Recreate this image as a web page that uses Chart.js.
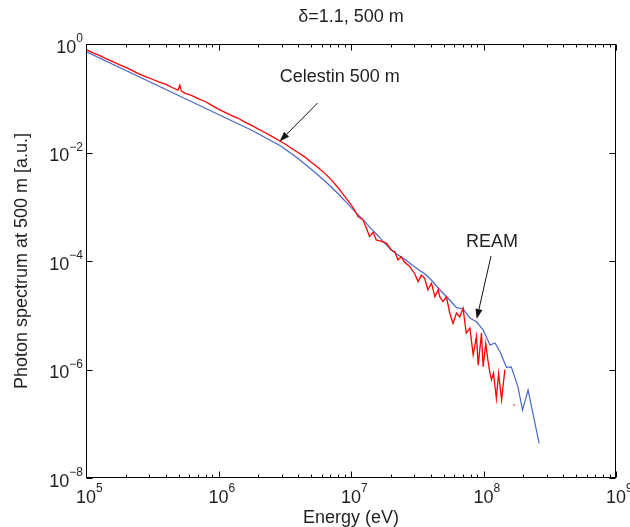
<!DOCTYPE html>
<html>
<head>
<meta charset="utf-8">
<script src="https://cdn.jsdelivr.net/npm/chart.js@4.4.0/dist/chart.umd.min.js"></script>
<style>
  html, body { margin: 0; background: #fff; }
</style>
</head>
<body>
<canvas id="chart" width="630" height="527"></canvas>
<script>
// REAM simulation (blue)
const reamEnergy = [1e5, 3.16e5, 1e6, 1.78e6, 2.95e6, 3.98e6, 5.37e6, 7.08e6, 8.91e6, 1.07e7,
  1.26e7, 1.41e7, 1.58e7, 1.78e7, 2.0e7, 2.24e7, 2.51e7, 2.88e7, 3.31e7, 3.63e7,
  4.07e7, 4.68e7, 5.13e7, 5.56e7, 6.25e7, 7.01e7, 7.89e7, 8.85e7, 9.93e7, 1.12e8,
  1.22e8, 1.33e8, 1.49e8, 1.62e8, 1.82e8, 1.97e8, 2.17e8, 2.63e8];
const reamValue = [0.724, 0.191, 0.0501, 0.0257, 0.0132, 7.76e-3, 4.27e-3, 2.34e-3, 1.32e-3, 8.13e-4,
  5.5e-4, 3.98e-4, 3.02e-4, 2.19e-4, 1.62e-4, 1.32e-4, 1.1e-4, 8.51e-5, 6.61e-5, 5.75e-5,
  4.37e-5, 2.95e-5, 2.34e-5, 1.91e-5, 1.38e-5, 1.32e-5, 8.91e-6, 7.59e-6, 5.37e-6, 2.82e-6,
  3.09e-6, 2.14e-6, 1.1e-6, 1.12e-6, 4.79e-7, 1.78e-7, 4.17e-7, 4.37e-8];

// Celestin 500 m (red)
const celEnergy = [1e5, 1.12e5, 1.26e5, 1.41e5, 1.58e5, 1.78e5, 2.0e5, 2.24e5, 2.51e5, 2.82e5,
  3.16e5, 3.55e5, 3.98e5, 4.47e5, 4.95e5, 5.11e5, 5.25e5, 5.62e5, 6.31e5, 7.08e5,
  7.94e5, 8.91e5, 1e6, 1.12e6, 1.26e6, 1.41e6, 1.58e6, 1.78e6, 2.0e6, 2.24e6,
  2.51e6, 2.82e6, 3.16e6, 3.55e6, 3.98e6, 4.47e6, 5.01e6, 5.62e6, 6.31e6, 7.08e6,
  7.94e6, 8.91e6, 1e7, 1.07e7, 1.13e7, 1.23e7, 1.31e7, 1.38e7, 1.47e7, 1.55e7,
  1.7e7, 1.85e7, 2.02e7, 2.14e7, 2.26e7, 2.4e7, 2.51e7, 2.77e7, 3.02e7, 3.21e7,
  3.4e7, 3.6e7, 3.8e7, 4.05e7, 4.3e7, 4.55e7, 4.68e7, 4.95e7, 5.25e7, 5.56e7,
  5.89e7, 6.25e7, 6.61e7, 7.01e7, 7.41e7, 7.89e7, 8.36e7, 8.85e7, 9.12e7, 9.66e7,
  9.93e7, 1.04e8, 1.08e8, 1.12e8, 1.15e8, 1.19e8, 1.25e8, 1.3e8, 1.37e8, 1.45e8,
  1.55e8, 1.68e8, 1.72e8];
const celValue = [0.794, 0.692, 0.617, 0.537, 0.479, 0.417, 0.372, 0.324, 0.282, 0.251,
  0.224, 0.2, 0.182, 0.158, 0.141, 0.174, 0.135, 0.123, 0.112, 0.0977,
  0.0871, 0.0741, 0.0631, 0.055, 0.0479, 0.0427, 0.0363, 0.0316, 0.0269, 0.0234,
  0.02, 0.017, 0.0145, 0.012, 0.01, 8.32e-3, 6.61e-3, 5.37e-3, 4.17e-3, 3.16e-3,
  2.29e-3, 1.58e-3, 1.1e-3, 8.51e-4, 6.61e-4, 5.75e-4, 3.98e-4, 2.82e-4, 3.39e-4, 2.45e-4,
  2.29e-4, 2.14e-4, 1.58e-4, 1.48e-4, 1.05e-4, 1.2e-4, 9.77e-5, 7.94e-5, 5.89e-5, 4.17e-5,
  5.5e-5, 4.79e-5, 2.95e-5, 3.89e-5, 2.19e-5, 2.95e-5, 2.19e-5, 1.78e-5, 2.19e-5, 1.1e-5,
  7.08e-6, 1.1e-5, 9.33e-6, 1.35e-5, 4.68e-6, 5.75e-6, 1.86e-6, 4.07e-6, 1.2e-6, 4.68e-6,
  1.12e-6, 3.02e-6, 1.48e-6, 8.51e-7, 6.46e-7, 8.51e-7, 2.95e-7, 8.51e-7, 2.75e-7, 1e-6,
  null, 2.24e-7, 2.19e-7];

const xTickExps = [5, 6, 7, 8, 9];
const yTickExps = [0, -2, -4, -6, -8];

const titleText = '\u03b4=1.1, 500 m';
const xTitle = 'Energy (eV)';
const yTitle = 'Photon spectrum at 500 m [a.u.]';

// annotations, in data coordinates: [energy, value]
const noteLabels = ['Celestin 500 m', 'REAM'];
const noteTextAt = [[8.22e6, 0.246], [1.16e8, 2.24e-4]];
const noteTail = [[5.6e6, 0.0817], [1.14e8, 1.24e-4]];
const noteTip = [[2.89e6, 0.016], [8.89e7, 8.53e-6]];

const FONT = "'Liberation Sans', Arial, Helvetica, sans-serif";
const INK = '#231f20';

const toPoints = (xs, ys) => xs.map((v, i) => ({ x: v, y: ys[i] }));
const sup = (n) => (n < 0 ? '\u2212' + (-n) : String(n));

const axesPlugin = {
  id: 'axesPlugin',
  afterDraw(chart) {
    const { ctx, chartArea: a, scales: { x, y } } = chart;
    const L = Math.round(a.left) + 0.5, R = Math.round(a.right) - 0.5;
    const T = Math.round(a.top) + 0.5, B = Math.round(a.bottom) - 0.5;
    ctx.save();
    ctx.strokeStyle = '#000';
    ctx.lineWidth = 1;
    ctx.strokeRect(L, T, R - L, B - T);

    // x ticks, major and minor, inside on top and bottom
    ctx.beginPath();
    xTickExps.forEach((d, i) => {
      for (let m = 1; m <= 9; m++) {
        if (m > 1 && i === xTickExps.length - 1) break;
        const px = Math.round(x.getPixelForValue(m * 10 ** d)) + 0.5;
        const len = m === 1 ? 6 : 3;
        ctx.moveTo(px, B); ctx.lineTo(px, B - len);
        ctx.moveTo(px, T); ctx.lineTo(px, T + len);
      }
    });
    yTickExps.forEach(e => {
      const py = Math.round(y.getPixelForValue(10 ** e)) + 0.5;
      ctx.moveTo(L, py); ctx.lineTo(L + 6, py);
      ctx.moveTo(R, py); ctx.lineTo(R - 6, py);
    });
    ctx.stroke();

    // tick labels: 10 with superscript exponent
    ctx.fillStyle = INK;
    ctx.textBaseline = 'alphabetic';
    xTickExps.forEach(d => {
      const px = x.getPixelForValue(10 ** d);
      ctx.font = '18px ' + FONT;
      ctx.textAlign = 'center';
      ctx.fillText('10', px, a.bottom + 25);
      const w = ctx.measureText('10').width;
      ctx.font = '12px ' + FONT;
      ctx.textAlign = 'left';
      ctx.fillText(sup(d), px + w / 2, a.bottom + 14);
    });
    yTickExps.forEach(e => {
      const py = y.getPixelForValue(10 ** e);
      ctx.font = '12px ' + FONT;
      const s = sup(e);
      const ew = ctx.measureText(s).width;
      ctx.textAlign = 'right';
      const right = a.left - 3;
      ctx.fillText(s, right, py - 2);
      ctx.font = '18px ' + FONT;
      ctx.fillText('10', right - ew, py + 8.5);
    });

    // titles
    ctx.font = '18px ' + FONT;
    ctx.textAlign = 'center';
    ctx.textBaseline = 'middle';
    const cx = (a.left + a.right) / 2;
    ctx.fillText(titleText, cx, 17);
    ctx.fillText(xTitle, cx, 518);
    ctx.save();
    ctx.translate(22, (a.top + a.bottom) / 2);
    ctx.rotate(-Math.PI / 2);
    ctx.fillText(yTitle, 0, 0);
    ctx.restore();

    // annotations with arrows
    noteLabels.forEach((label, i) => {
      const tx = x.getPixelForValue(noteTextAt[i][0]), ty = y.getPixelForValue(noteTextAt[i][1]);
      const x0 = x.getPixelForValue(noteTail[i][0]), y0 = y.getPixelForValue(noteTail[i][1]);
      const x1 = x.getPixelForValue(noteTip[i][0]), y1 = y.getPixelForValue(noteTip[i][1]);
      ctx.fillStyle = INK;
      ctx.fillText(label, tx, ty);
      const ang = Math.atan2(y1 - y0, x1 - x0);
      const hl = 10, hw = 3.5;
      const bx = x1 - hl * Math.cos(ang), by = y1 - hl * Math.sin(ang);
      ctx.strokeStyle = '#111';
      ctx.beginPath();
      ctx.moveTo(x0, y0); ctx.lineTo(bx, by);
      ctx.stroke();
      ctx.fillStyle = '#111';
      ctx.beginPath();
      ctx.moveTo(x1, y1);
      ctx.lineTo(bx + hw * Math.sin(ang), by - hw * Math.cos(ang));
      ctx.lineTo(bx - hw * Math.sin(ang), by + hw * Math.cos(ang));
      ctx.closePath();
      ctx.fill();
    });
    ctx.restore();
  }
};

new Chart(document.getElementById('chart'), {
  type: 'line',
  data: {
    datasets: [
      {
        label: 'Celestin 500 m',
        data: toPoints(celEnergy, celValue),
        borderColor: '#ff0000',
        borderWidth: 1.3,
        pointRadius: 0,
        tension: 0,
        spanGaps: false
      },
      {
        label: 'REAM',
        data: toPoints(reamEnergy, reamValue),
        borderColor: '#4a66c4',
        borderWidth: 1.2,
        pointRadius: 0,
        tension: 0
      }
    ]
  },
  options: {
    responsive: false,
    animation: false,
    layout: { padding: { left: 86, right: 14, top: 44, bottom: 49 } },
    plugins: { legend: { display: false }, tooltip: { enabled: false } },
    scales: {
      x: { type: 'logarithmic', min: 1e5, max: 1e9, display: false },
      y: { type: 'logarithmic', min: 1e-8, max: 1, display: false }
    }
  },
  plugins: [axesPlugin]
});
</script>
</body>
</html>
